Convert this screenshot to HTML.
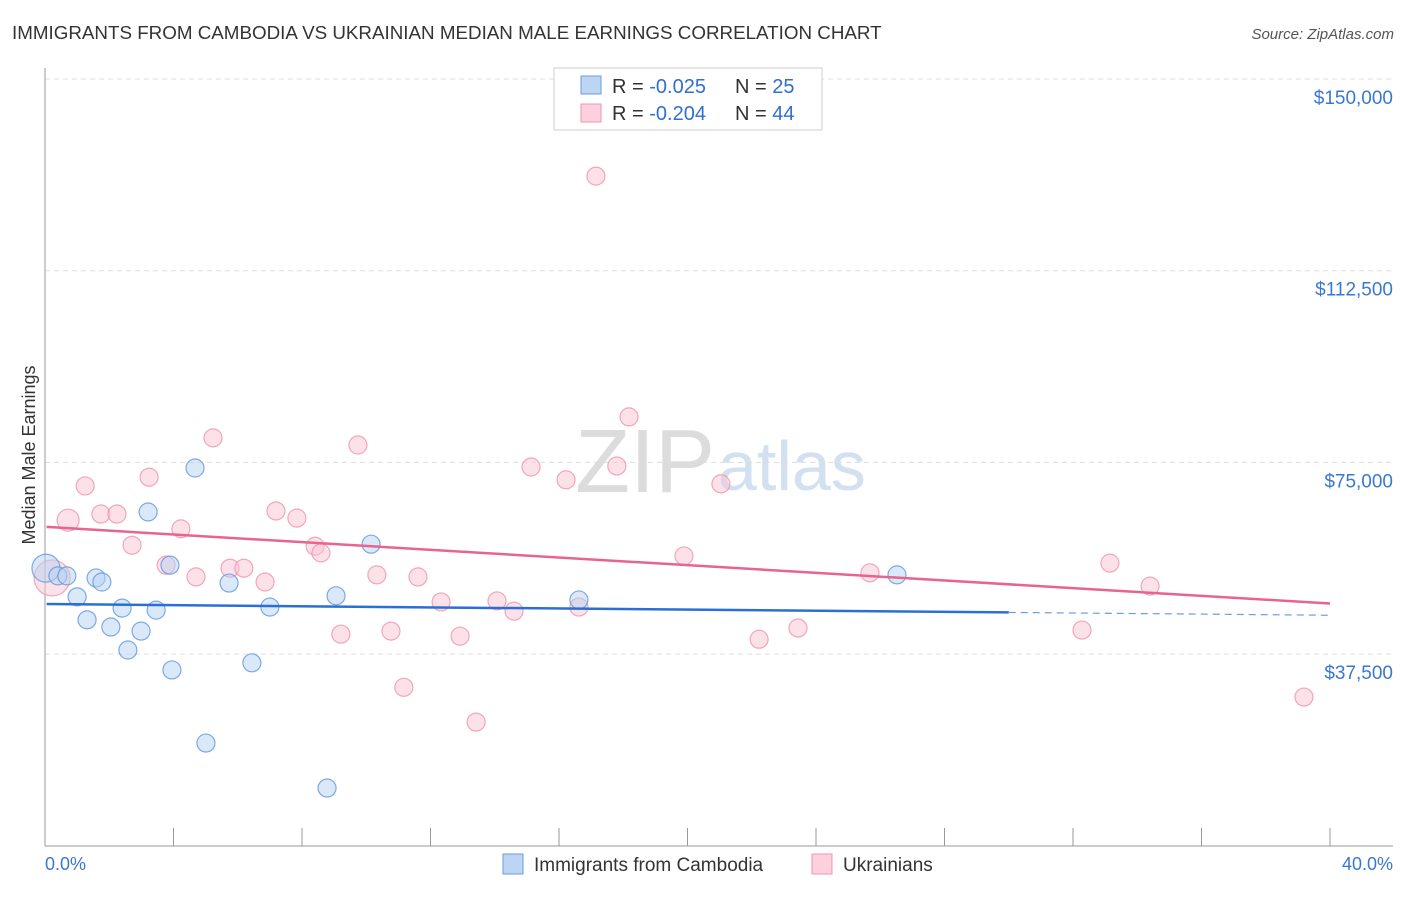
<!DOCTYPE html>
<html><head><meta charset="utf-8"><style>
body{margin:0;background:#fff;font-family:"Liberation Sans",sans-serif}
svg text{font-family:"Liberation Sans",sans-serif}
</style></head><body>
<svg id="c" width="1406" height="892">
<text x="12" y="39" font-size="18.8" fill="#333">IMMIGRANTS FROM CAMBODIA VS UKRAINIAN MEDIAN MALE EARNINGS CORRELATION CHART</text>
<text x="1394" y="39" font-size="15" fill="#555" font-style="italic" text-anchor="end">Source: ZipAtlas.com</text>
<text x="35" y="455" font-size="18" fill="#333" text-anchor="middle" transform="rotate(-90 35 455)">Median Male Earnings</text>
<text x="715" y="492" font-size="90" fill="#dcdcdc" text-anchor="end" font-family="Liberation Serif">ZIP</text>
<text x="718" y="490" font-size="70" fill="#d2e0f1">atlas</text>
<g id="grid"></g><g id="marks"></g>
<rect x="554" y="68" width="268" height="62" fill="#fff" stroke="#ccc"/>
<rect x="581" y="76" width="20" height="18" fill="#bcd5f3" stroke="#6a9de0"/>
<rect x="581" y="104" width="20" height="18" fill="#fcd0dd" stroke="#ee94b0"/>
<text x="612" y="93" font-size="20" fill="#333">R = <tspan fill="#2f6fd0">-0.025</tspan></text>
<text x="735" y="93" font-size="20" fill="#333">N = <tspan fill="#2f6fd0">25</tspan></text>
<text x="612" y="120" font-size="20" fill="#333">R = <tspan fill="#2f6fd0">-0.204</tspan></text>
<text x="735" y="120" font-size="20" fill="#333">N = <tspan fill="#2f6fd0">44</tspan></text>
<text x="45" y="870" font-size="18" fill="#3a78d0">0.0%</text>
<text x="1393" y="870" font-size="18" fill="#3a78d0" text-anchor="end">40.0%</text>
<rect x="503" y="854" width="20" height="20" fill="#bcd5f3" stroke="#6a9de0"/>
<text x="534" y="871" font-size="19" fill="#333">Immigrants from Cambodia</text>
<rect x="812" y="854" width="20" height="20" fill="#fcd0dd" stroke="#ee94b0"/>
<text x="843" y="871" font-size="19" fill="#333">Ukrainians</text>
</svg>
<script>
const yTicks=[150000,112500,75000,37500];
const yTickLabels=["$150,000","$112,500","$75,000","$37,500"];
const xTicks=[0,4,8,12,16,20,24,28,32,36,40];
const cambodiaX=[0.03,0.40,0.68,1.00,1.31,1.59,1.77,2.05,2.40,2.58,2.99,3.21,3.46,3.89,3.95,4.67,5.01,5.73,6.44,7.00,8.78,9.06,10.15,16.62,26.52];
const cambodiaY=[54.3,52.8,52.8,48.7,44.2,52.4,51.6,42.8,46.5,38.3,42.0,65.3,46.1,54.9,34.4,73.9,20.1,51.4,35.8,46.7,11.3,48.9,59.0,48.1,53.0];
const ukrX=[0.22,0.72,1.25,1.74,2.24,2.71,3.24,3.77,4.23,4.70,5.23,5.76,6.19,6.85,7.19,7.84,8.41,8.59,9.21,9.74,10.33,10.77,11.17,11.61,12.33,12.92,13.42,14.07,14.60,15.13,16.22,16.62,17.15,17.80,18.18,19.89,21.04,22.23,23.44,25.68,32.28,33.15,34.40,39.19];
const ukrY=[52.4,63.7,70.4,64.9,64.9,58.8,72.1,54.9,62.0,52.6,79.8,54.3,54.3,51.6,65.5,64.1,58.6,57.3,41.4,78.4,53.0,42.0,31.0,52.6,47.7,41.0,24.2,47.9,45.9,74.1,71.6,46.7,131.0,74.3,83.9,56.7,70.8,40.4,42.6,53.4,42.2,55.3,50.8,29.1];
const cambodiaTrend=[47.3,45.1];
const ukrTrend=[62.4,47.4];
const NS="http://www.w3.org/2000/svg";
function X(p){return 45+p/40*1285;}
function Y(k){return 79+(150-k)/37.5*191.7;}
function mk(t,a,parent){const e=document.createElementNS(NS,t);for(const k in a)e.setAttribute(k,a[k]);parent.appendChild(e);return e;}
const g=document.getElementById('grid'),m=document.getElementById('marks');
yTicks.forEach((v,i)=>{
 const l=mk('line',{x1:45,x2:1393,y1:Y(v/1000),y2:Y(v/1000),stroke:'#ddd','stroke-dasharray':'5,4'},g);
 
 
 const t=mk('text',{x:1393,y:Y(v/1000)+25,'font-size':19,fill:'#3a78d0','text-anchor':'end'},g);
 t.textContent=yTickLabels[i];
 
 
});
let a=mk('line',{x1:45,x2:45,y1:68,y2:846,stroke:'#999'},g);


a=mk('line',{x1:45,x2:1393,y1:846,y2:846,stroke:'#999'},g);


xTicks.forEach(p=>{
 const t=mk('line',{x1:X(p),x2:X(p),y1:828,y2:846,stroke:'#999'},g);
 
 
});
function pts(xs,ys,fill,stroke,name){
 xs.forEach((x,i)=>{
  const r=(i===0)?(name==='ukrainian-point'?18:14):(name==='ukrainian-point'&&i===1?11:9);
  const c=mk('circle',{cx:X(x),cy:Y(ys[i]),r:r,fill:fill,'fill-opacity':0.5,stroke:stroke,'stroke-opacity':0.8,'stroke-width':1.2},m);
  
  
 });
}
pts(ukrX,ukrY,'#fac4d4','#ec93ae','ukrainian-point');
pts(cambodiaX,cambodiaY,'#b6d1f2','#5f97de','cambodia-point');
function ycl(tr,p){return tr[0]+(tr[1]-tr[0])*p/40;}
let t=mk('line',{x1:X(0.05),x2:X(30),y1:Y(ycl(cambodiaTrend,0.05)),y2:Y(ycl(cambodiaTrend,30)),stroke:'#2a6fd6','stroke-width':2.5},m);


t=mk('line',{x1:X(30),x2:X(40),y1:Y(ycl(cambodiaTrend,30)),y2:Y(ycl(cambodiaTrend,40)),stroke:'#6a9de0','stroke-width':1.2,'stroke-dasharray':'7,5'},m);


t=mk('line',{x1:X(0.05),x2:X(40),y1:Y(ycl(ukrTrend,0.05)),y2:Y(ycl(ukrTrend,40)),stroke:'#e8648e','stroke-width':2.5},m);


</script>
</body></html>
